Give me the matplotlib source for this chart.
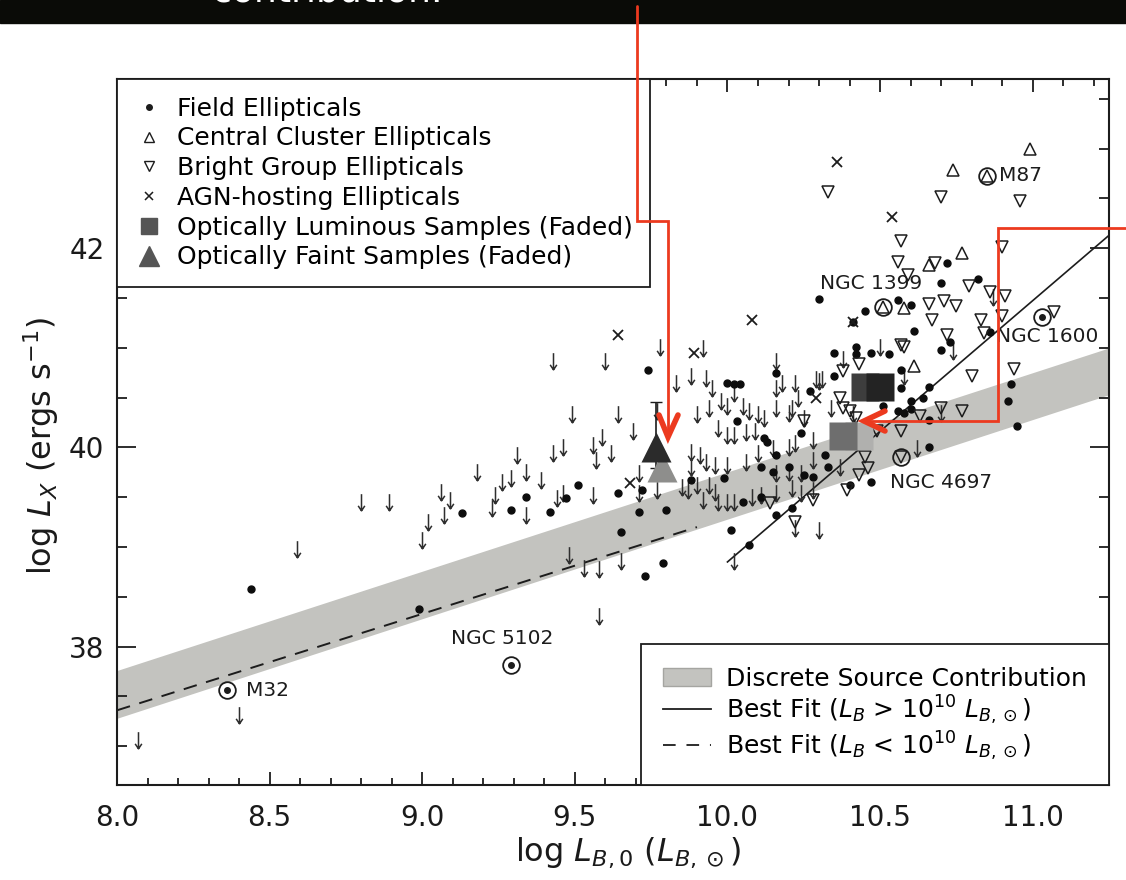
import matplotlib.pyplot as plt
from matplotlib.lines import Line2D
from matplotlib.patches import Patch, Rectangle
from matplotlib.path import Path
from matplotlib.ticker import MultipleLocator

# discrete source band and the two best fits
band_x = [8.0, 11.25]
band_lo = [37.28, 40.53]
band_hi = [37.76, 41.00]
fit_bright_x = [10.0, 11.25]
fit_bright_y = [38.85, 42.13]
fit_faint_x = [8.0, 9.9]
fit_faint_y = [37.36, 39.20]

# field ellipticals (detections)
field_x = [8.44, 8.99, 9.13, 9.34, 9.29, 9.42, 9.47, 9.51, 9.64, 9.72, 9.71, 9.65,
           9.73, 9.79, 9.80, 9.74, 9.88, 9.99, 10.01, 10.07, 10.05, 10.11, 10.16,
           10.21, 10.00, 10.02, 10.04, 10.03, 10.12, 10.13, 10.16, 10.11, 10.15,
           10.20, 10.25, 10.28, 10.16, 10.27, 10.24, 10.32, 10.33, 10.35, 10.35,
           10.42, 10.42, 10.47, 10.53, 10.40, 10.47, 10.57, 10.57, 10.66, 10.64,
           10.60, 10.60, 10.58, 10.56, 10.51, 10.66, 10.66, 10.30, 10.45, 10.56,
           10.60, 10.61, 10.70, 10.72, 10.82, 10.73, 10.70, 10.86, 10.93, 10.92,
           10.95, 10.41]
field_y = [38.58, 38.38, 39.34, 39.50, 39.37, 39.35, 39.49, 39.62, 39.54, 39.57, 39.35, 39.15,
           38.71, 38.84, 39.37, 40.78, 39.67, 39.69, 39.17, 39.02, 39.45, 39.50, 39.32,
           39.39, 40.65, 40.64, 40.64, 40.27, 40.09, 40.05, 39.92, 39.80, 39.75,
           39.80, 39.72, 39.70, 40.75, 40.57, 40.14, 39.92, 39.80, 40.95, 40.72,
           41.01, 40.94, 40.95, 40.94, 39.62, 39.65, 40.78, 40.60, 40.61, 40.50,
           40.47, 40.39, 40.35, 40.37, 40.42, 40.28, 40.00, 41.49, 41.37, 41.48,
           41.43, 41.17, 41.65, 41.85, 41.69, 41.06, 40.98, 41.16, 40.64, 40.47,
           40.22, 41.26]

# central cluster ellipticals
cluster_x = [10.74, 10.99, 10.77, 10.66, 10.58, 10.61]
cluster_y = [42.79, 43.00, 41.95, 41.83, 41.40, 40.82]

# bright group ellipticals
group_x = [10.33, 10.70, 10.96, 10.57, 10.90, 10.56, 10.68, 10.59, 10.79, 10.86,
           10.91, 10.66, 10.71, 10.75, 10.67, 10.83, 10.90, 10.72, 10.84, 10.58,
           11.07, 10.43, 10.38, 10.94, 10.80, 10.70, 10.77, 10.63, 10.57, 10.49,
           10.38, 10.40, 10.37, 10.42, 10.57, 10.25, 10.14, 10.28, 10.39, 10.45,
           10.43, 10.46, 10.22]
group_y = [42.57, 42.51, 42.47, 42.07, 42.01, 41.86, 41.85, 41.73, 41.62, 41.56,
           41.52, 41.44, 41.47, 41.42, 41.28, 41.28, 41.32, 41.13, 41.15, 41.01,
           41.36, 40.84, 40.77, 40.79, 40.72, 40.40, 40.37, 40.32, 40.17, 40.17,
           40.40, 40.37, 40.50, 40.30, 41.03, 40.27, 39.44, 39.47, 39.57, 39.90,
           39.72, 39.79, 39.25]

# AGN-hosting ellipticals
agn_x = [10.36, 10.54, 10.08, 9.64, 9.89, 10.41, 10.29, 9.68]
agn_y = [42.87, 42.31, 41.28, 41.13, 40.95, 41.26, 40.50, 39.64]

# upper limits
ul_x = [8.07, 8.40, 8.59, 8.80, 8.89, 9.06, 9.09, 9.02, 9.07, 9.00, 9.18, 9.24,
        9.23, 9.26, 9.29, 9.34, 9.34, 9.31, 9.43, 9.44, 9.43, 9.49, 9.39, 9.46,
        9.46, 9.48, 9.53, 9.58, 9.58, 9.65, 9.60, 9.78, 9.92, 9.83, 9.88, 9.93,
        9.95, 10.02, 10.16, 10.16, 10.18, 10.22, 10.29, 10.31, 10.38, 10.50, 10.34,
        10.41, 10.23, 10.21, 10.25, 10.16, 10.20, 10.10, 10.12, 9.90, 9.94, 9.98,
        10.00, 10.05, 10.07, 9.97, 10.00, 10.02, 10.06, 10.09, 10.15, 10.20, 10.22,
        10.28, 10.28, 9.91, 9.93, 9.96, 10.00, 10.06, 10.10, 10.16, 10.20, 10.24,
        9.64, 9.69, 9.59, 9.56, 9.57, 9.62, 9.77, 9.88, 9.88, 9.71, 9.71, 9.77,
        9.56, 9.85, 9.87, 9.90, 9.94, 9.96, 9.92, 9.97, 10.00, 10.02, 10.08, 10.11,
        10.16, 10.21, 10.24, 10.28, 10.37, 10.62, 10.58, 10.74, 10.70, 10.87,
        10.30, 10.22, 10.30, 10.02]
ul_y = [37.06, 37.31, 38.98, 39.45, 39.45, 39.55, 39.47, 39.25, 39.32, 39.07, 39.75, 39.52,
        39.39, 39.65, 39.69, 39.75, 39.32, 39.92, 39.94, 39.49, 40.87, 40.34, 39.67, 40.00,
        39.54, 38.92, 38.79, 38.78, 38.31, 38.86, 40.87, 41.01, 41.00, 40.65, 40.72, 40.70,
        40.60, 40.55, 40.87, 40.60, 40.65, 40.65, 40.69, 40.69, 40.89, 41.01, 40.40,
        40.34, 40.50, 40.40, 40.30, 40.40, 40.35, 40.34, 40.30, 40.34, 40.40, 40.47,
        40.42, 40.42, 40.37, 40.20, 40.12, 40.12, 40.15, 40.17, 39.99, 40.00, 40.04,
        40.07, 39.87, 39.92, 39.85, 39.82, 39.82, 39.85, 39.94, 39.74, 39.75, 39.74,
        40.34, 40.17, 40.10, 40.02, 39.87, 39.94, 40.37, 39.95, 39.80, 39.74, 39.54, 39.57,
        39.52, 39.60, 39.57, 39.62, 39.62, 39.55, 39.47, 39.45, 39.45, 39.45, 39.50, 39.52,
        39.54, 39.59, 39.54, 39.57, 39.80, 39.99, 40.72, 40.97, 40.35, 41.51,
        40.67, 39.19, 39.17, 38.86]

# faded stacked samples
lum_x = [10.45, 10.50, 10.43, 10.38]
lum_y = [40.61, 40.61, 40.11, 40.11]
faint_x = [9.787, 9.766]
faint_y = [39.80, 40.00]
faint_err_lo = 0.21
faint_err_hi = 0.46

# named galaxies
named = ['M32', 'NGC 5102', 'NGC 4697', 'NGC 1399', 'M87', 'NGC 1600']
named_x = [8.36, 9.29, 10.57, 10.51, 10.85, 11.03]
named_y = [37.56, 37.82, 39.90, 41.41, 42.73, 41.31]
named_kind = ['field', 'field', 'group', 'cluster', 'cluster', 'field']

W, H = 1126, 880
fig = plt.figure(figsize=(W / 100, H / 100), dpi=100)
plt.rcParams['font.family'] = ['DejaVu Sans']
plt.rcParams['mathtext.fontset'] = 'dejavusans'

ax = fig.add_axes([117 / W, 1 - 785 / H, 992 / W, 706 / H])
ax.set_xlim(8.0, 11.25)
ax.set_ylim(36.61, 43.70)

ink = '#1c1c1c'
ax.fill_between(band_x, band_lo, band_hi, color='#c3c3bf', lw=0, zorder=1)
ax.plot(fit_bright_x, fit_bright_y, color=ink, lw=1.2, zorder=2)
ax.plot(fit_faint_x, fit_faint_y, color=ink, lw=1.4, dashes=(7, 5), zorder=2)

arrow = Path([(0, 1), (0, -1), (-0.4, -0.4), (0, -1), (0.4, -0.4)],
             [Path.MOVETO, Path.LINETO, Path.MOVETO, Path.LINETO, Path.LINETO])
ax.plot(ul_x, ul_y, ls='none', marker=arrow, ms=12, mfc='none', mec='#2e2e2e', mew=1.1, zorder=3)
ax.plot(field_x, field_y, 'o', ms=5, color='#0d0d0d', zorder=4)
ax.plot(cluster_x, cluster_y, '^', ms=9, mfc='none', mec=ink, mew=1.1, zorder=4)
ax.plot(group_x, group_y, 'v', ms=9, mfc='none', mec=ink, mew=1.1, zorder=4)
ax.plot(agn_x, agn_y, 'x', ms=7, color=ink, mew=1.3, zorder=4)

inner = {'field': ('o', 4, 'full'), 'group': ('v', 8, 'none'), 'cluster': ('^', 8, 'none')}
offsets = {'M32': (14, 0, 'left'), 'NGC 5102': (-6, 19, 'center'), 'NGC 4697': (-8, -18, 'left'),
           'NGC 1399': (-9, 17, 'center'), 'M87': (9, 0, 'left'), 'NGC 1600': (4, -14, 'center')}
for name, x, y, kind in zip(named, named_x, named_y, named_kind):
    m, s, fill = inner[kind]
    ax.plot(x, y, 'o', ms=12, mfc='none', mec=ink, mew=1.3, zorder=5)
    if fill == 'full':
        ax.plot(x, y, m, ms=s, color=ink, zorder=5)
    else:
        ax.plot(x, y, m, ms=s, mfc='none', mec=ink, mew=1.1, zorder=5)
    dx, dy, ha = offsets[name]
    ax.annotate(name, (x, y), xytext=(dx, dy), textcoords='offset points',
                ha=ha, va='center', fontsize=14.5, color=ink, zorder=6)

for x, y, c in zip(lum_x, lum_y, ['#3d3d3d', '#232323', '#b0b0ae', '#6e6e6e']):
    ax.plot(x, y, 's', ms=20, color=c, mec='none', zorder=6)
ax.errorbar(faint_x[1], faint_y[1], yerr=[[faint_err_lo], [faint_err_hi]], fmt='none',
            ecolor=ink, elinewidth=1.2, capsize=4, zorder=6)
for x, y, c in zip(faint_x, faint_y, ['#8e8e8c', '#2b2b2b']):
    ax.plot(x, y, '^', ms=21, color=c, mec='none', zorder=6)

# axes styling
ax.xaxis.set_major_locator(MultipleLocator(0.5))
ax.xaxis.set_minor_locator(MultipleLocator(0.1))
ax.yaxis.set_major_locator(MultipleLocator(2))
ax.yaxis.set_minor_locator(MultipleLocator(0.5))
ax.xaxis.set_major_formatter(lambda v, p: f'{v:.1f}')
ax.yaxis.set_major_formatter(lambda v, p: f'{v:.0f}')
ax.tick_params(which='both', direction='in', top=True, right=True, color=ink, width=1.3,
               labelsize=20, labelcolor='#1a1a1a')
ax.tick_params(axis='x', which='major', length=9.5, pad=14)
ax.tick_params(axis='x', which='minor', length=5)
ax.tick_params(axis='y', which='major', length=14, pad=9)
ax.tick_params(axis='y', which='minor', length=7)
for sp in ax.spines.values():
    sp.set_linewidth(1.5)
    sp.set_color(ink)

ax.set_xlabel(r'log $L_{B,0}$ ($L_{B,\odot}$)', fontsize=23, labelpad=2, color='#1a1a1a', x=0.515)
ax.set_ylabel(r'log $L_X$ (ergs s$^{-1}$)', fontsize=23, labelpad=6, color='#1a1a1a', y=0.48)

# legends
h1 = [Line2D([], [], ls='none', marker='o', ms=4, color=ink),
      Line2D([], [], ls='none', marker='^', ms=7, mfc='none', mec=ink, mew=1.0),
      Line2D([], [], ls='none', marker='v', ms=7, mfc='none', mec=ink, mew=1.0),
      Line2D([], [], ls='none', marker='x', ms=6, color=ink, mew=1.1),
      Line2D([], [], ls='none', marker='s', ms=12, color='#555555'),
      Line2D([], [], ls='none', marker='^', ms=14, color='#555555')]
l1 = ['Field Ellipticals', 'Central Cluster Ellipticals', 'Bright Group Ellipticals',
      'AGN-hosting Ellipticals', 'Optically Luminous Samples (Faded)',
      'Optically Faint Samples (Faded)']
leg1 = ax.legend(h1, l1, loc='upper left', bbox_to_anchor=(0, 1), borderaxespad=0,
                 fontsize=18, frameon=True, fancybox=False, edgecolor=ink, framealpha=1,
                 handlelength=1.15, handletextpad=0.55, labelspacing=0.23, borderpad=0.7)
leg1.get_frame().set_linewidth(1.3)
leg1.set_zorder(10)
ax.add_artist(leg1)

h2 = [Patch(facecolor='#c3c3bf', edgecolor='#a5a5a1'),
      Line2D([], [], color=ink, lw=1.3),
      Line2D([], [], color=ink, lw=1.3, dashes=(7, 6))]
l2 = ['Discrete Source Contribution',
      r'Best Fit ($L_B$ > 10$^{10}$ $L_{B,\odot}$)',
      r'Best Fit ($L_B$ < 10$^{10}$ $L_{B,\odot}$)']
leg2 = ax.legend(h2, l2, loc='lower right', bbox_to_anchor=(1, 0), borderaxespad=0,
                 fontsize=18, frameon=True, fancybox=False, edgecolor=ink, framealpha=1,
                 handlelength=1.9, handletextpad=0.6, labelspacing=0.1, borderpad=0.9)
leg2.get_frame().set_linewidth(1.3)
leg2.set_zorder(10)

# slide header strip and red call-out arrows
fig.patches.append(Rectangle((0, 1 - 23 / H), 1, 23 / H, transform=fig.transFigure,
                             color='#0a0b07', zorder=0))
fig.text(212 / W, 1 - 1.5 / H, 'contribution.', color='white', fontsize=26,
         ha='left', va='baseline')


def red(px, py, lw=2.0):
    fig.add_artist(Line2D([p / W for p in px], [1 - q / H for q in py],
                          color='#ec3a1f', lw=lw, solid_capstyle='round',
                          solid_joinstyle='miter', zorder=20))


red([637, 637, 668, 668], [6, 221, 221, 434])
red([659, 668, 678], [415, 437, 415], lw=4)
red([1126, 998, 998, 866], [228, 228, 421, 421])
red([885, 864, 885], [411, 421, 431], lw=4)

fig.savefig('out.png', dpi=100)
